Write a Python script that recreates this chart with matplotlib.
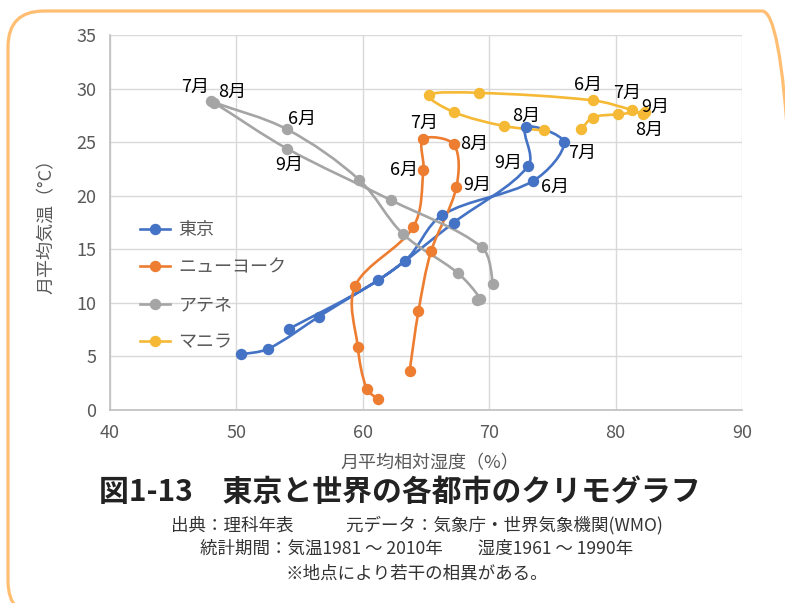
"""クリモグラフ (図1-13) の再現: 東京・ニューヨーク・アテネ・マニラ"""
import numpy as np
import matplotlib
matplotlib.use("Agg")
import matplotlib.pyplot as plt
from matplotlib.path import Path
from matplotlib.patches import PathPatch, FancyBboxPatch
from matplotlib.lines import Line2D
from matplotlib.transforms import IdentityTransform

plt.rcParams["font.family"] = ["Noto Sans CJK JP", "DejaVu Sans"]

MONTHS = list(range(1, 13))
CITIES = ["東京", "ニューヨーク", "アテネ", "マニラ"]

# 月平均相対湿度 (%) , 1月〜12月
tokyo_rh = [50.4, 52.5, 56.5, 63.3, 66.3, 73.5, 75.9, 72.9, 73.1, 67.2, 61.2, 54.2]
nyc_rh = [61.2, 60.3, 59.6, 59.4, 64.0, 64.8, 64.8, 67.2, 67.4, 65.4, 64.4, 63.7]
athens_rh = [69.0, 69.3, 67.5, 63.2, 59.7, 54.0, 48.0, 48.2, 54.0, 62.2, 69.4, 70.3]
manila_rh = [74.3, 71.2, 67.2, 65.2, 69.2, 78.2, 81.3, 82.2, 82.3, 80.2, 78.2, 77.3]

# 月平均気温 (°C) , 1月〜12月
tokyo_t = [5.2, 5.7, 8.7, 13.9, 18.2, 21.4, 25.0, 26.4, 22.8, 17.5, 12.1, 7.6]
nyc_t = [1.0, 2.0, 5.9, 11.6, 17.1, 22.4, 25.3, 24.8, 20.8, 14.8, 9.2, 3.6]
athens_t = [10.3, 10.4, 12.8, 16.4, 21.5, 26.2, 28.8, 28.7, 24.4, 19.6, 15.2, 11.8]
manila_t = [26.1, 26.5, 27.8, 29.4, 29.6, 28.9, 28.0, 27.6, 27.8, 27.6, 27.3, 26.2]

RH = [tokyo_rh, nyc_rh, athens_rh, manila_rh]
TEMP = [tokyo_t, nyc_t, athens_t, manila_t]
COLORS = ["#4472C4", "#ED7D31", "#A5A5A5", "#F5B935"]

# 夏の月ラベルの位置 (点からのずれ, px)
LABEL_OFFSETS = [
    {6: (22, -6), 7: (18, -11), 8: (0, 11), 9: (-20, 3)},
    {6: (-19, 0), 7: (1, 16), 8: (20, 0), 9: (21, 2)},
    {6: (15, 10), 7: (-16, 15), 8: (19, 11), 9: (2, -16)},
    {6: (-5, 15), 7: (-5, 17), 8: (6, -16), 9: (11, 5)},
]


def smooth_path(xs, ys):
    # Excel の「平滑線」っぽく: 弦長で重み付けした Catmull-Rom -> 3次ベジェ
    p = np.column_stack([xs, ys]).astype(float)
    n = len(p)
    d = np.r_[np.hypot(*np.diff(p, axis=0).T)]  # 各区間の長さ
    verts, codes = [p[0]], [Path.MOVETO]
    for i in range(n - 1):
        p0, p1, p2, p3 = p[max(i - 1, 0)], p[i], p[i + 1], p[min(i + 2, n - 1)]
        d01 = d[i - 1] if i > 0 else d[i]
        d12 = d[i]
        d23 = d[i + 1] if i + 1 < n - 1 else d[i]
        c1 = p1 + (p2 - p0) * d12 / (d01 + d12) / 3
        c2 = p2 - (p3 - p1) * d12 / (d12 + d23) / 3
        verts += [c1, c2, p2]
        codes += [Path.CURVE4] * 3
    return Path(verts, codes)


def main():
    W, H = 785, 603
    fig = plt.figure(figsize=(W / 100, H / 100), dpi=100)
    ax = fig.add_axes([110 / W, 1 - 410 / H, 632 / W, 375 / H])

    for rh, t, col, offs in zip(RH, TEMP, COLORS, LABEL_OFFSETS):
        ax.add_patch(PathPatch(smooth_path(rh, t), fill=False, ec=col, lw=1.9,
                               capstyle="round", joinstyle="round", zorder=3))
        ax.plot(rh, t, "o", color=col, ms=7.2, zorder=4)
        for m, (dx, dy) in offs.items():
            ax.annotate(f"{m}月", (rh[m - 1], t[m - 1]), xytext=(dx, dy),
                        textcoords="offset pixels", ha="center", va="center",
                        fontsize=13, color="black", zorder=5)

    ax.set_xlim(40, 90)
    ax.set_ylim(0, 35)
    ax.set_xticks(range(40, 91, 10))
    ax.set_yticks(range(0, 36, 5))
    ax.grid(True, color="#d9d9d9", lw=1.0, zorder=0)
    ax.set_axisbelow(True)
    for s in ("top", "right"):
        ax.spines[s].set_visible(False)
    for s in ("left", "bottom"):
        ax.spines[s].set_color("#bfbfbf")
        ax.spines[s].set_linewidth(1.2)
    ax.tick_params(length=0, labelsize=13, labelcolor="#595959")
    ax.tick_params(axis="y", pad=10)
    ax.tick_params(axis="x", pad=10)

    handles = [Line2D([0], [0], color=c, lw=1.9, marker="o", ms=7.2) for c in COLORS]
    ax.legend(handles, CITIES, loc="center left", bbox_to_anchor=(0.047, 0.33),
              frameon=False, fontsize=13, labelcolor="#595959", borderpad=0,
              borderaxespad=0, handlelength=1.7, handletextpad=0.45,
              labelspacing=1.07)

    fig.text(47 / W, 1 - 222 / H, "月平均気温（°C）", rotation=90, ha="center",
             va="center", fontsize=13, color="#595959")
    fig.text(430 / W, 1 - 463 / H, "月平均相対湿度（%）", ha="center", va="center",
             fontsize=13, color="#595959")

    fig.text(400 / W, 1 - 492 / H, "図1-13　東京と世界の各都市のクリモグラフ",
             ha="center", va="center", fontsize=21.5, fontweight="bold", color="#222222")
    sub = ["出典：理科年表　　　元データ：気象庁・世界気象機関(WMO)",
           "統計期間：気温1981 ～ 2010年　　湿度1961 ～ 1990年",
           "※地点により若干の相異がある。"]
    for line, y in zip(sub, (525, 549, 574)):
        fig.text(417 / W, 1 - y / H, line, ha="center", va="center",
                 fontsize=12.6, color="#333333")

    # 角丸の枠
    frame = FancyBboxPatch((8, -14), 790, 606, boxstyle="round,pad=0,rounding_size=36",
                           transform=IdentityTransform(), fill=False,
                           ec="#FFBE72", lw=2.3)
    fig.add_artist(frame)

    fig.savefig("out.png", dpi=100)
    plt.close(fig)


if __name__ == "__main__":
    main()
